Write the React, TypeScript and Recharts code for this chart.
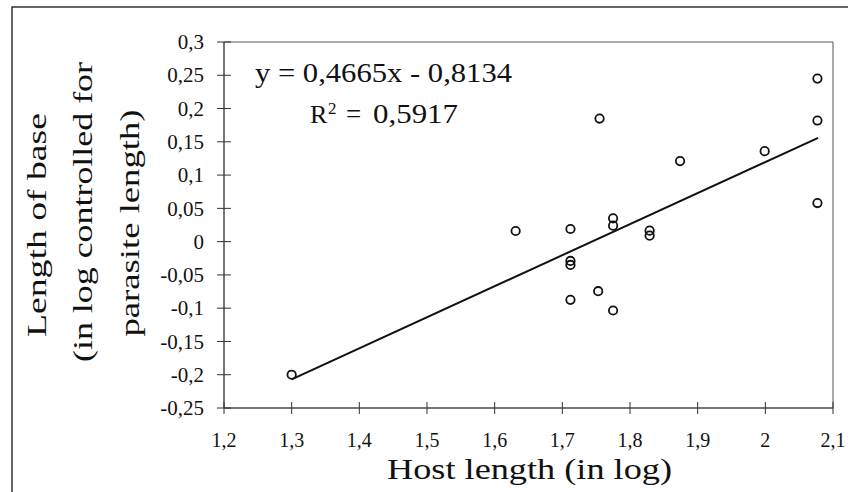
import { ScatterChart, Scatter, XAxis, YAxis, ReferenceArea, ReferenceLine } from 'recharts';

// values
const hostLength = [1.3, 1.631, 1.712, 1.712, 1.712, 1.712, 1.753, 1.755, 1.775, 1.775, 1.775, 1.829, 1.829, 1.874, 1.999, 2.077, 2.077, 2.077];
const baseLength = [-0.2, 0.016, 0.019, -0.029, -0.035, -0.0875, -0.0745, 0.185, 0.035, 0.024, -0.1035, 0.0165, 0.009, 0.121, 0.136, 0.245, 0.182, 0.058];

const xTicks = [1.2, 1.3, 1.4, 1.5, 1.6, 1.7, 1.8, 1.9, 2, 2.1];
const yTicks = [-0.25, -0.2, -0.15, -0.1, -0.05, 0, 0.05, 0.1, 0.15, 0.2, 0.25, 0.3];

const SLOPE = 0.4665;
const INTERCEPT = -0.8134;
const trendX = [1.3, 2.078];

const FONT = '"Liberation Serif", "Times New Roman", serif';
const INK = '#111';

const fmt = (v: number) => String(v).replace('.', ',');

const data = hostLength.map((x, i) => ({ x, y: baseLength[i] }));

function YTick(props: any) {
  const { x, y, payload } = props;
  const ax = x + 21; // axis line (tickSize 7 + tickMargin 14)
  return (
    <g>
      <line x1={ax - 7} x2={ax + 7} y1={y} y2={y} stroke="#333" />
      <text x={x + 1} y={y} dy="0.34em" textAnchor="end" fontFamily={FONT} fontSize={21} fill={INK}>
        {fmt(payload.value)}
      </text>
    </g>
  );
}

function XTick(props: any) {
  const { x, y, payload } = props;
  const ay = y - 21;
  return (
    <g>
      <line x1={x} x2={x} y1={ay - 6} y2={ay + 6} stroke="#333" />
      <text x={x} y={ay + 39} textAnchor="middle" fontFamily={FONT} fontSize={20} fill={INK}>
        {fmt(payload.value)}
      </text>
    </g>
  );
}

const Dot = (props: any) => (
  <circle cx={props.cx} cy={props.cy} r={4.2} fill="none" stroke={INK} strokeWidth={1.8} />
);

export default function App() {
  return (
    <div style={{ position: 'absolute', left: 0, top: 0, width: 848, height: 492, background: '#fff', overflow: 'hidden' }}>
      <ScatterChart width={848} height={492} margin={{ top: 42, right: 15, bottom: 0, left: 0 }}>
        <XAxis
          type="number"
          dataKey="x"
          domain={[1.2, 2.1]}
          ticks={xTicks}
          height={84}
          tickSize={7}
          tickMargin={14}
          tickLine={false}
          tick={<XTick />}
          axisLine={{ stroke: '#444' }}
        />
        <YAxis
          type="number"
          dataKey="y"
          domain={[-0.25, 0.3]}
          ticks={yTicks}
          width={224}
          tickSize={7}
          tickMargin={14}
          tickLine={false}
          tick={<YTick />}
          axisLine={{ stroke: '#444' }}
        />
        <ReferenceArea x1={1.2} x2={2.1} y1={-0.25} y2={0.3} fill="none" stroke="#555" strokeWidth={1} />
        <ReferenceLine
          segment={trendX.map(x => ({ x, y: SLOPE * x + INTERCEPT }))}
          stroke={INK}
          strokeWidth={2}
        />
        <Scatter data={data} shape={<Dot />} isAnimationActive={false} />
      </ScatterChart>

      {/* titles, equation and the scan frame */}
      <svg width={848} height={492} style={{ position: 'absolute', left: 0, top: 0, pointerEvents: 'none' }}>
        <polyline points="12,492 12,7 848,7" fill="none" stroke="#333" strokeWidth={1.5} />

        <text x={255} y={82} fontFamily={FONT} fontSize={27} fill={INK} textLength={257} lengthAdjust="spacingAndGlyphs">
          y = 0,4665x - 0,8134
        </text>
        <text x={310} y={123} fontFamily={FONT} fontSize={26} fill={INK}>R</text>
        <text x={328} y={114} fontFamily={FONT} fontSize={17} fill={INK}>2</text>
        <text x={346} y={123} fontFamily={FONT} fontSize={27} fill={INK}>=</text>
        <text x={373} y={123} fontFamily={FONT} fontSize={27} fill={INK} textLength={85} lengthAdjust="spacingAndGlyphs">
          0,5917
        </text>

        <text x={387} y={479} fontFamily={FONT} fontSize={29} fill={INK} textLength={285} lengthAdjust="spacingAndGlyphs">
          Host length (in log)
        </text>

        <text transform="translate(46,225) rotate(-90)" textAnchor="middle" fontFamily={FONT} fontSize={27} fill={INK} textLength={224} lengthAdjust="spacingAndGlyphs">
          Length of base
        </text>
        <text transform="translate(92,212) rotate(-90)" textAnchor="middle" fontFamily={FONT} fontSize={27} fill={INK} textLength={300} lengthAdjust="spacingAndGlyphs">
          (in log controlled for
        </text>
        <text transform="translate(139,223) rotate(-90)" textAnchor="middle" fontFamily={FONT} fontSize={27} fill={INK} textLength={227} lengthAdjust="spacingAndGlyphs">
          parasite length)
        </text>
      </svg>
    </div>
  );
}
